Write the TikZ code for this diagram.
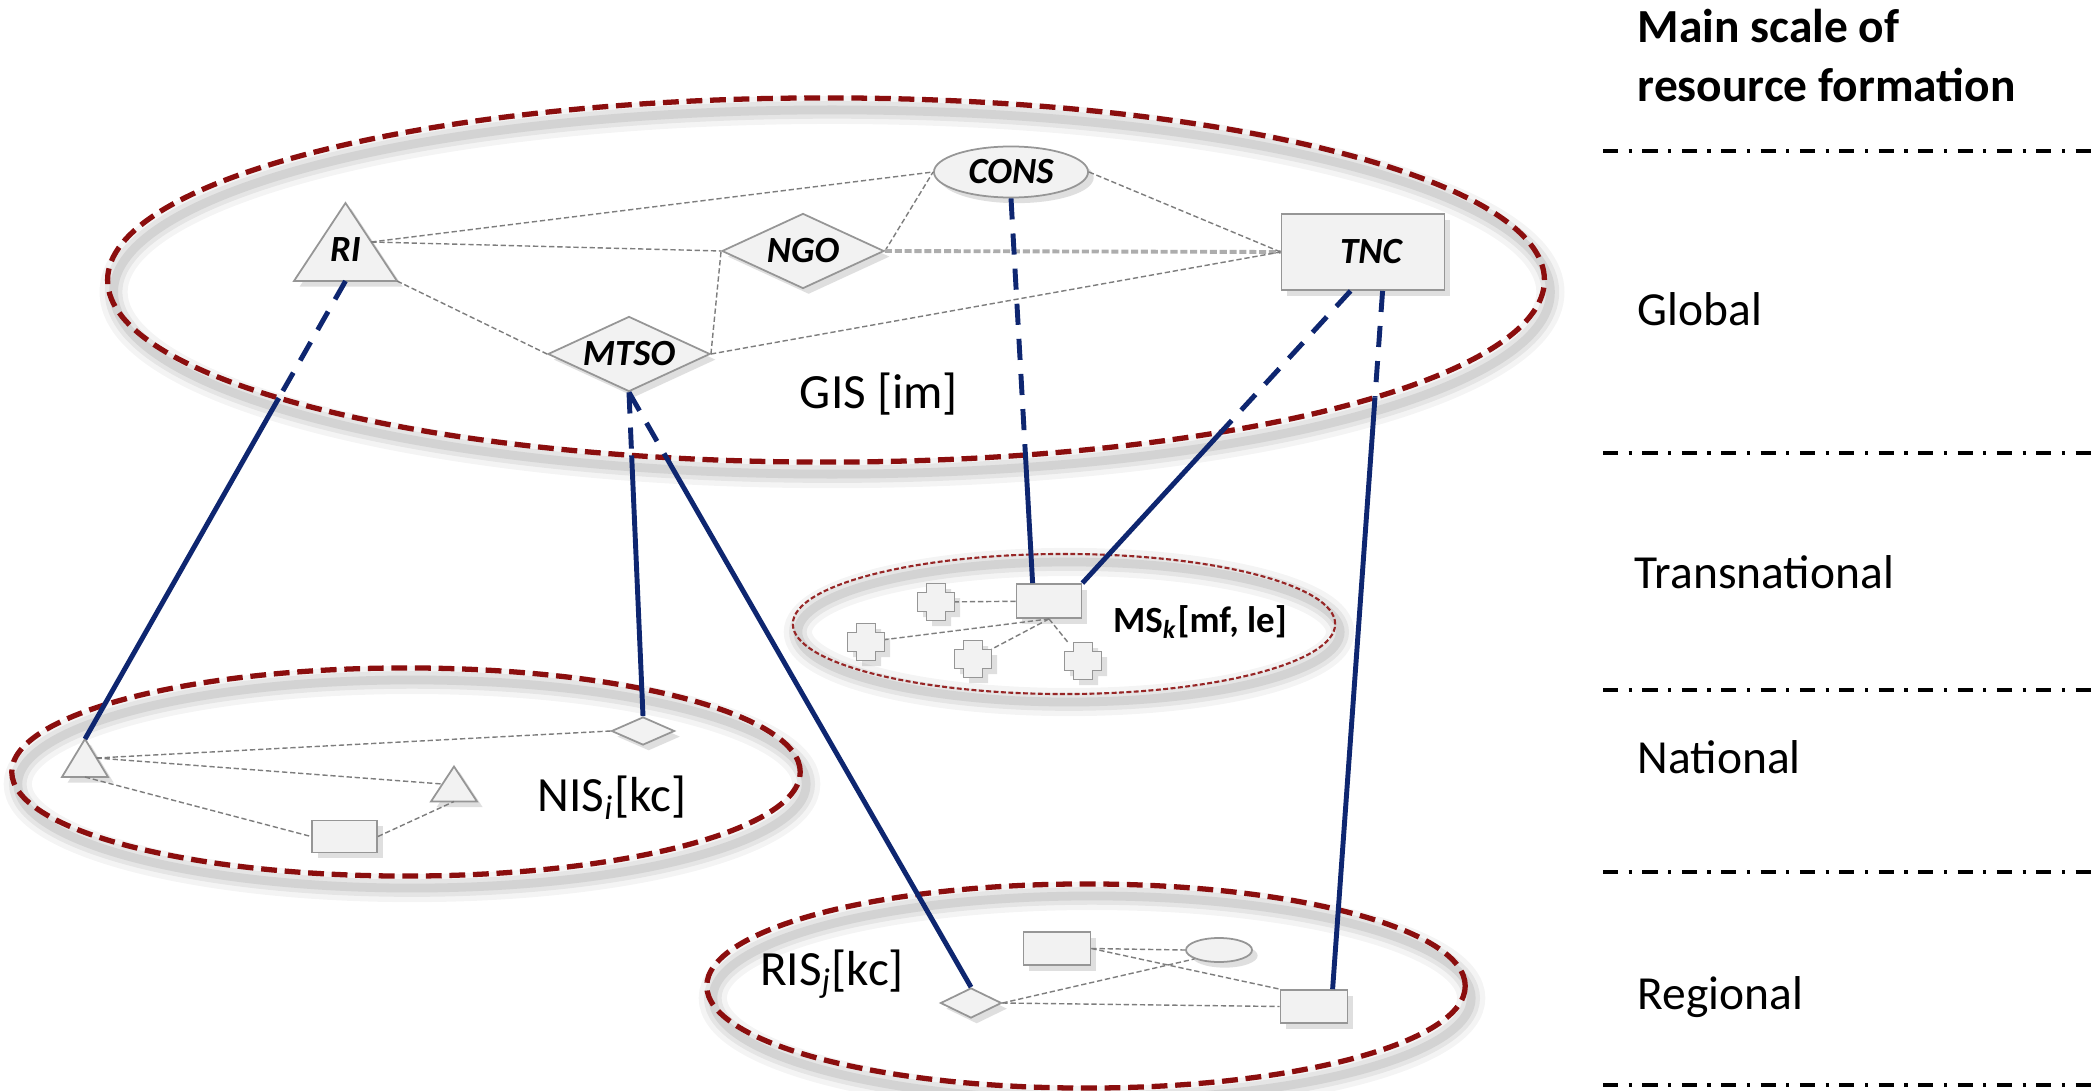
\documentclass[tikz,border=0pt]{standalone}
\usepackage{fontspec}
\setmainfont{Carlito}
\usetikzlibrary{shapes.geometric,shadows,intersections,calc}

\definecolor{ringred}{RGB}{139,14,14}
\definecolor{linkblue}{RGB}{14,38,112}
\definecolor{shapefill}{RGB}{242,242,242}
\definecolor{shapeline}{RGB}{150,150,150}
\definecolor{tiegray}{RGB}{125,125,125}

\tikzset{
  ring/.style={draw=ringred, line width=1.5pt, dash pattern=on 4.5pt off 2.2pt},
  thinring/.style={draw=ringred!90!white, line width=0.6pt, dash pattern=on 1.4pt off 0.7pt},
  ringshade/.style={draw=black, opacity=#1},
  actor/.style={fill=shapefill, draw=shapeline, line width=0.5pt,
    drop shadow={shadow xshift=1.6pt, shadow yshift=-1.6pt, opacity=0.25}},
  hold/.style={rectangle, inner sep=0pt, outer sep=0pt},
  tag/.style={font=\fontsize{10.5}{12}\selectfont\bfseries\itshape, inner sep=0pt},
  tie/.style={draw=tiegray, line width=0.4pt, dash pattern=on 1.5pt off 0.8pt},
  heavytie/.style={draw=black!32, line width=1.1pt, dash pattern=on 2pt off 0.8pt},
  link/.style={draw=linkblue, line width=1.4pt},
  hidden link/.style={link, dash pattern=on 6pt off 4pt},
  level/.style={font=\fontsize{13.5}{16}\selectfont, anchor=base west, inner sep=0pt},
  heading/.style={font=\fontsize{13.5}{16}\selectfont\bfseries, anchor=base west, inner sep=0pt},
  scaleline/.style={line width=0.9pt, dash pattern=on 4.3pt off 3pt on 0.9pt off 3pt},
  pics/plus/.style={code={
    \path[actor] (-9.5,-18.5) -- (9.5,-18.5) -- (9.5,-9.5) -- (18.5,-9.5) -- (18.5,9.5)
      -- (9.5,9.5) -- (9.5,18.5) -- (-9.5,18.5) -- (-9.5,9.5) -- (-18.5,9.5)
      -- (-18.5,-9.5) -- (-9.5,-9.5) -- cycle;}},
}

\begin{document}
\begin{tikzpicture}[x=0.01cm, y=-0.01cm]
\useasboundingbox (0,0) rectangle (2097,1091);
\fill[white] (0,0) rectangle (2097,1091);

% soft shadows under the rings
\foreach \w/\o in {8pt/0.045, 5pt/0.06, 2.5pt/0.08}{
  \draw[ringshade=\o, line width=\w] (832,292) ellipse [x radius=7.18cm, y radius=1.82cm];
  \draw[ringshade=\o, line width=\w] (412,784) ellipse [x radius=3.94cm, y radius=1.04cm];
  \draw[ringshade=\o, line width=\w] (1092,998) ellipse [x radius=3.79cm, y radius=1.02cm];
  \draw[ringshade=\o, line width=\w] (1069,632) ellipse [x radius=2.71cm, y radius=0.70cm];
}

% rings of the four systems
\path[ring, name path=gisring] (826,280) ellipse [x radius=7.18cm, y radius=1.82cm];
\path[ring] (406,772) ellipse [x radius=3.94cm, y radius=1.04cm];
\path[ring] (1086,986) ellipse [x radius=3.79cm, y radius=1.02cm];
\path[thinring] (1064,624) ellipse [x radius=2.71cm, y radius=0.70cm];

% ---------- global level ----------
\node[hold, minimum width=1.03cm, minimum height=0.78cm] (ri) at (345.5,242) {};
\path[actor] (ri.south west) -- (ri.north) -- (ri.south east) -- cycle;
\node[tag] (rilbl) at ($(ri.center)+(0,8)$) {RI};

\node[actor, diamond, tag, aspect=2.2, minimum width=1.62cm, minimum height=0.75cm] (ngo) at (803,251) {NGO};
\node[actor, diamond, tag, aspect=2.2, minimum width=1.62cm, minimum height=0.75cm] (mtso) at (629,354) {MTSO};
\node[actor, ellipse, tag, minimum width=1.54cm, minimum height=0.51cm] (cons) at (1011,172) {CONS};
\node[actor, rectangle, tag, minimum width=1.63cm, minimum height=0.76cm] (tnc) at (1363,252) {\hspace*{0.16cm}TNC};
\node[font=\fontsize{14}{16}\selectfont, inner sep=0pt] (gislbl) at (879,394) {GIS [im]};

\coordinate (riR) at ($(ri.north)!0.5!(ri.south east)$);
\draw[tie] (riR) -- (cons.west);
\draw[tie] (riR) -- (ngo.west);
\draw[tie] (ri.south east) -- (mtso.west);
\draw[tie] (mtso.east) -- (ngo.west);
\draw[tie] (ngo.east) -- (cons.west);
\draw[heavytie] (ngo.east) -- (tnc.west);
\draw[tie] (mtso.east) -- (tnc.west);
\draw[tie] (cons.east) -- (tnc.west);

% ---------- transnational level ----------
\node[actor, rectangle, minimum width=0.65cm, minimum height=0.34cm, inner sep=0pt] (hub) at (1049,601) {};
\node[hold, minimum size=0.37cm] (c1) at (936,602) {};
\node[hold, minimum size=0.37cm] (c2) at (866,642) {};
\node[hold, minimum size=0.37cm] (c3) at (973,659) {};
\node[hold, minimum size=0.37cm] (c4) at (1083,661) {};
\draw[tie] (hub) -- (c1);
\draw[tie] (hub.south) -- (c2);
\draw[tie] (hub.south) -- (c3);
\draw[tie] (hub.south) -- (c4);
\foreach \c in {c1,c2,c3,c4}{ \pic at (\c) {plus}; }
\node[font=\fontsize{10.5}{12}\selectfont\bfseries, inner sep=0pt] (mslbl) at (1200,622)
  {MS\textsubscript{\textit{k}}[mf, le]};

% ---------- national level ----------
\node[hold, minimum width=0.46cm, minimum height=0.38cm] (nisA) at (85,758) {};
\node[hold, minimum width=0.46cm, minimum height=0.35cm] (nisB) at (454,784) {};
\node[actor, diamond, minimum width=0.63cm, minimum height=0.28cm, inner sep=0pt] (nisD) at (643,731) {};
\node[actor, rectangle, minimum width=0.65cm, minimum height=0.32cm, inner sep=0pt] (nisR) at (344.5,836.5) {};
\path[actor] (nisA.south west) -- (nisA.north) -- (nisA.south east) -- cycle;
\path[actor] (nisB.south west) -- (nisB.north) -- (nisB.south east) -- cycle;
\coordinate (nisAr) at ($(nisA.north)!0.5!(nisA.south east)$);
\coordinate (nisBl) at ($(nisB.north)!0.5!(nisB.south west)$);
\draw[tie] (nisAr) -- (nisD.west);
\draw[tie] (nisAr) -- (nisBl);
\draw[tie] (nisA.south) -- (nisR.west);
\draw[tie] (nisR.east) -- (nisB.south);
\node[font=\fontsize{14}{16}\selectfont, inner sep=0pt] (nislbl) at (612,798) {NIS\textsubscript{\textit{i}}[kc]};

% ---------- regional level ----------
\node[actor, diamond, minimum width=0.61cm, minimum height=0.30cm, inner sep=0pt] (risD) at (971,1003) {};
\node[actor, rectangle, minimum width=0.67cm, minimum height=0.33cm, inner sep=0pt] (r1) at (1057,948.5) {};
\node[actor, ellipse, minimum width=0.66cm, minimum height=0.24cm, inner sep=0pt] (sell) at (1219,950) {};
\node[actor, rectangle, minimum width=0.67cm, minimum height=0.33cm, inner sep=0pt] (r2) at (1314,1006.5) {};
\draw[tie] (r1.east) -- (sell.west);
\draw[tie] (r1.east) -- (r2.north west);
\draw[tie] (risD.east) -- (sell.200);
\draw[tie] (risD.east) -- (r2.west);
\node[font=\fontsize{14}{16}\selectfont, inner sep=0pt] (rislbl) at (832,974) {RIS\textsubscript{\textit{j}}[kc]};

% ---------- links between levels (hidden inside the global ring) ----------
\coordinate (hubA) at ($(hub.north west)+(17,0)$);
\coordinate (tncA) at ($(tnc.south west)+(70,0)$);
\coordinate (tncB) at ($(tnc.south west)+(102,0)$);
\coordinate (r2A) at ($(r2.north west)+(53,0)$);

\path[name path=k1] (ri.south) -- (nisA.north);
\path[name path=k2] (mtso.south) -- (nisD.north);
\path[name path=k3] (mtso.south) -- (risD.north);
\path[name path=k4] (cons.south) -- (hubA);
\path[name path=k5] (tncA) -- (hub.north east);
\path[name path=k6] (tncB) -- (r2A);
\path[name intersections={of=gisring and k1, by=x1}];
\path[name intersections={of=gisring and k2, by=x2}];
\path[name intersections={of=gisring and k3, by=x3}];
\path[name intersections={of=gisring and k4, by=x4}];
\path[name intersections={of=gisring and k5, by=x5}];
\path[name intersections={of=gisring and k6, by=x6}];

\draw[hidden link] (ri.south) -- (x1);   \draw[link] (x1) -- (nisA.north);
\draw[hidden link] (mtso.south) -- (x2); \draw[link] (x2) -- (nisD.north);
\draw[hidden link] (mtso.south) -- (x3); \draw[link] (x3) -- (risD.north);
\draw[hidden link] (cons.south) -- (x4); \draw[link] (x4) -- (hubA);
\draw[hidden link] (tncA) -- (x5);       \draw[link] (x5) -- (hub.north east);
\draw[hidden link] (tncB) -- (x6);       \draw[link] (x6) -- (r2A);

% ---------- scale of resource formation ----------
\node[heading] (h1) at (1637,43) {Main scale of};
\node[heading] (h2) at (1637,102) {resource formation};
\foreach \y in {151,453,690,872,1085}{
  \draw[scaleline] (1603,\y) -- (2097,\y);
}
\node[level] (lg) at (1637,325) {Global};
\node[level] (lt) at (1634,588) {Transnational};
\node[level] (ln) at (1637,773) {National};
\node[level] (lr) at (1637,1009) {Regional};
\end{tikzpicture}
\end{document}
